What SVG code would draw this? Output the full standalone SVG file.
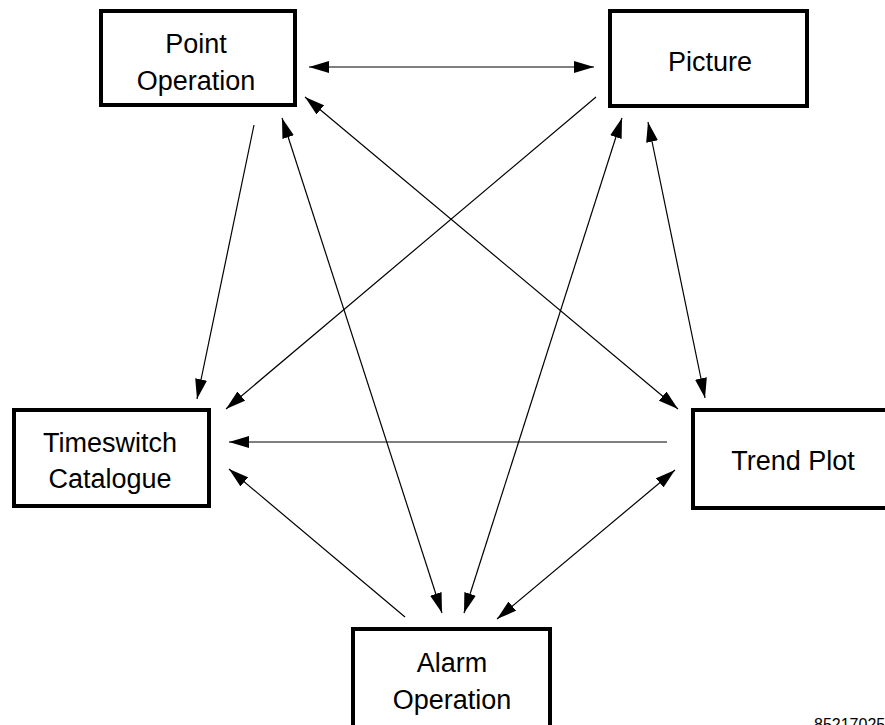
<svg xmlns="http://www.w3.org/2000/svg" width="885" height="725" viewBox="0 0 885 725">
<style>
.box{fill:#fff;stroke:#000;stroke-width:4}
.lbl{font-family:"Liberation Sans",Arial,sans-serif;font-size:27px;fill:#000;text-anchor:middle}
.c line{stroke:#000;stroke-width:1.2;fill:none}
.one{marker-end:url(#ah)}
.two{marker-start:url(#ah);marker-end:url(#ah)}
.ref{font-family:"Liberation Sans",Arial,sans-serif;font-size:16px;fill:#000}
</style>
<defs>
<marker id="ah" markerUnits="userSpaceOnUse" markerWidth="20" markerHeight="12" refX="20" refY="6" orient="auto-start-reverse" viewBox="0 0 20 12">
<path d="M0,0 L20,6 L0,12 z" fill="#000"/>
</marker>
</defs>
<rect width="885" height="725" fill="#fff"/>
<g class="c" id="connectors">
<line class="two" x1="309" y1="67" x2="594" y2="67"/>
<line class="one" x1="254" y1="125" x2="197" y2="399"/>
<line class="two" x1="282" y1="118" x2="442" y2="613"/>
<line class="two" x1="305" y1="97" x2="678" y2="409"/>
<line class="one" x1="596" y1="97" x2="226" y2="409"/>
<line class="two" x1="622" y1="118" x2="464" y2="613"/>
<line class="two" x1="648" y1="122" x2="705" y2="398"/>
<line class="one" x1="667" y1="442" x2="229" y2="442"/>
<line class="one" x1="405" y1="617" x2="229" y2="469"/>
<line class="two" x1="497" y1="619" x2="675" y2="470"/>
</g>
<g id="point-operation">
<rect class="box" x="101" y="11" width="194" height="94"/>
<text class="lbl" x="196" y="53">Point</text>
<text class="lbl" x="196" y="90">Operation</text>
</g>
<g id="picture">
<rect class="box" x="610" y="11" width="197" height="95"/>
<text class="lbl" x="710" y="71">Picture</text>
</g>
<g id="timeswitch-catalogue">
<rect class="box" x="14" y="410" width="195" height="96"/>
<text class="lbl" x="110" y="452">Timeswitch</text>
<text class="lbl" x="110" y="488">Catalogue</text>
</g>
<g id="trend-plot">
<rect class="box" x="693" y="410" width="200" height="98"/>
<text class="lbl" x="793" y="470">Trend Plot</text>
</g>
<g id="alarm-operation">
<rect class="box" x="353" y="629" width="197" height="110"/>
<text class="lbl" x="452" y="672">Alarm</text>
<text class="lbl" x="452" y="709">Operation</text>
</g>
<text class="ref" x="814" y="730">85217025</text>
</svg>
